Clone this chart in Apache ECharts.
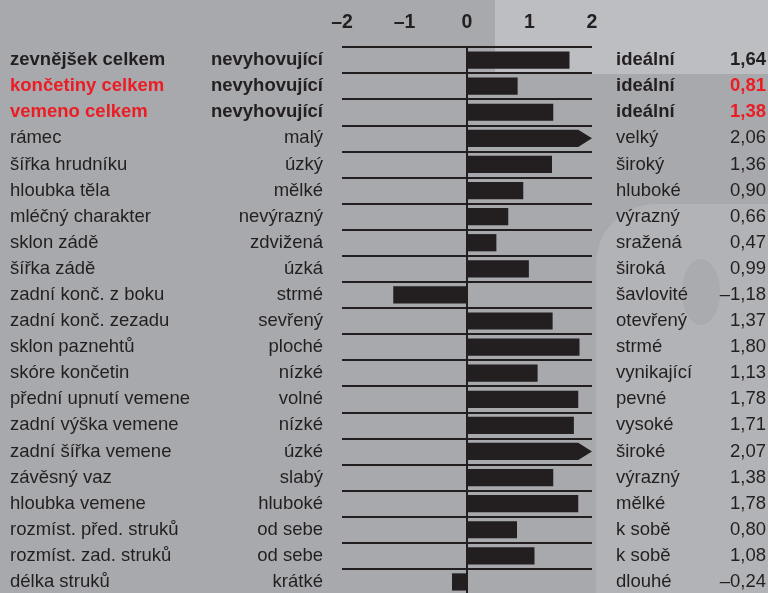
<!DOCTYPE html>
<html>
<head>
<meta charset="utf-8">
<script src="https://cdn.jsdelivr.net/npm/echarts@6/dist/echarts.min.js"></script>
<style>html,body{margin:0;padding:0;background:#a8a9ad}#c{width:768px;height:593px}</style>
</head>
<body>
<div id="c"></div>
<script>
// ---- data ----
const traits = ['zevnějšek celkem','končetiny celkem','vemeno celkem','rámec','šířka hrudníku','hloubka těla','mléčný charakter','sklon zádě','šířka zádě','zadní konč. z boku','zadní konč. zezadu','sklon paznehtů','skóre končetin','přední upnutí vemene','zadní výška vemene','zadní šířka vemene','závěsný vaz','hloubka vemene','rozmíst. před. struků','rozmíst. zad. struků','délka struků'];
const lowLabels = ['nevyhovující','nevyhovující','nevyhovující','malý','úzký','mělké','nevýrazný','zdvižená','úzká','strmé','sevřený','ploché','nízké','volné','nízké','úzké','slabý','hluboké','od sebe','od sebe','krátké'];
const highLabels = ['ideální','ideální','ideální','velký','široký','hluboké','výrazný','sražená','široká','šavlovité','otevřený','strmé','vynikající','pevné','vysoké','široké','výrazný','mělké','k sobě','k sobě','dlouhé'];
const values = [1.64,0.81,1.38,2.06,1.36,0.90,0.66,0.47,0.99,-1.18,1.37,1.80,1.13,1.78,1.71,2.07,1.38,1.78,0.80,1.08,-0.24];
const axisTicks = [-2,-1,0,1,2];
// ---- styles ----
const boldRows = [0,1,2];
const redRows = [1,2];
const DARK = '#231f20', RED = '#ec1c24';
const FONT = '"Liberation Sans", Arial, Helvetica, sans-serif';
const FS = 18.5;

function fmtNum(v){ return (v<0?'–':'') + Math.abs(v).toFixed(2).replace('.', ','); }
function styled(txt, i, redAllowed){
  if (redAllowed && redRows.indexOf(i) >= 0) return '{r|' + txt + '}';
  if (boldRows.indexOf(i) >= 0) return '{b|' + txt + '}';
  return '{n|' + txt + '}';
}
const rich = {
  n: {fontSize: FS, fontFamily: FONT, color: DARK},
  b: {fontSize: FS, fontFamily: FONT, color: DARK, fontWeight: 'bold'},
  r: {fontSize: FS, fontFamily: FONT, color: RED, fontWeight: 'bold'}
};
function labelAxis(position, margin, align, fmt){
  return {
    type: 'category', data: traits, inverse: true, position: position,
    axisLine: {show: false, onZero: false}, axisTick: {show: false}, splitLine: {show: false},
    axisLabel: {interval: 0, margin: margin, align: align, formatter: fmt, rich: rich}
  };
}

const chart = echarts.init(document.getElementById('c'), null, {renderer: 'canvas'});
chart.setOption({
  backgroundColor: '#a8a9ad',
  animation: false,
  graphic: [
    {type: 'rect', z: -10, silent: true, shape: {x: 495, y: 0, width: 273, height: 74}, style: {fill: '#bdbec1'}},
    {type: 'rect', z: -10, silent: true, shape: {x: 596, y: 204, width: 172, height: 389, r: [60,0,0,0]}, style: {fill: '#b2b3b6'}},
    {type: 'ellipse', z: -9, silent: true, shape: {cx: 701, cy: 292, rx: 19, ry: 33}, style: {fill: '#aaabaf'}}
  ],
  grid: {left: 342, width: 250, top: 47, height: 548, containLabel: false, outerBoundsMode: 'none'},
  xAxis: {
    type: 'value', position: 'top', min: -2, max: 2, interval: 1,
    axisLine: {show: false}, axisTick: {show: false}, splitLine: {show: false},
    axisLabel: {margin: 14, fontSize: 19.5, fontWeight: 'bold', fontFamily: FONT, color: DARK,
      formatter: function(v){ return axisTicks.indexOf(v) >= 0 ? (v<0?'–':'') + Math.abs(v) : ''; }}
  },
  yAxis: [
    {
      type: 'category', data: traits, inverse: true, position: 'left',
      axisLine: {show: true, onZero: true, lineStyle: {color: DARK, width: 2}},
      axisTick: {show: false}, axisLabel: {show: false},
      splitLine: {show: true, lineStyle: {color: DARK, width: 2}}
    },
    labelAxis('left', 332, 'left', function(v, i){ return styled(traits[i], i, true); }),
    labelAxis('left', 19, 'right', function(v, i){ return styled(lowLabels[i], i, false); }),
    labelAxis('right', 24, 'left', function(v, i){ return styled(highLabels[i], i, false); }),
    labelAxis('right', 174, 'right', function(v, i){ return styled(fmtNum(values[i]), i, true); })
  ],
  series: [{
    type: 'custom', xAxisIndex: 0, yAxisIndex: 0, clip: false,
    encode: {x: 0, y: 1},
    data: values.map(function(v, i){ return [v, i]; }),
    renderItem: function(params, api){
      const v = api.value(0), i = api.value(1);
      const p0 = api.coord([0, i]);
      const h = api.size([0, 1])[1] * 0.66;
      const top = p0[1] - h / 2, bot = p0[1] + h / 2;
      const x0 = p0[0] + 1;
      if (v > 2) {
        const xr = api.coord([1.78, i])[0];
        const xt = api.coord([2, i])[0];
        return {type: 'polygon', shape: {points: [[x0, top], [xr, top], [xt, p0[1]], [xr, bot], [x0, bot]]}, style: {fill: DARK}};
      }
      const x1 = api.coord([v, i])[0];
      const xa = Math.min(x0, x1), xb = Math.max(v < 0 ? p0[0] - 1 : x0, x1);
      return {type: 'rect', shape: {x: xa, y: top, width: xb - xa, height: h}, style: {fill: DARK}};
    }
  }]
});
</script>
</body>
</html>
